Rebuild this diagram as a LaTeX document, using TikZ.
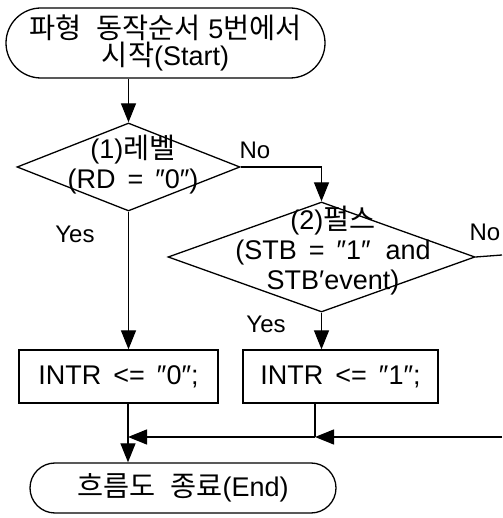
\documentclass[tikz,border=0pt]{standalone}
\usepackage{fontspec}
\setmainfont{Liberation Sans}
\newfontfamily\krfont[Scale=1.05]{Noto Sans CJK KR}
\usetikzlibrary{shapes.geometric,shapes.misc,arrows.meta}
\newcommand{\ko}[1]{{\krfont #1}}
\tikzstyle{term}=[rounded rectangle,draw,line width=1.3pt,align=center,inner sep=0pt]
\tikzstyle{dia}=[diamond,draw,line width=1.3pt,inner sep=0pt]
\tikzstyle{proc}=[rectangle,draw,line width=1.3pt,align=center,inner sep=0pt]
\tikzstyle{txt}=[align=center,inner sep=0pt,font=\fontsize{27}{30}\selectfont]
\tikzstyle{lbl}=[inner sep=0pt,font=\fontsize{24}{26}\selectfont]
\tikzstyle{flow}=[line width=1.3pt,-{Triangle[length=19pt,width=15pt]}]
\tikzstyle{wire}=[line width=1.3pt]

\begin{document}
\begin{tikzpicture}[x=1pt,y=1pt,font=\fontsize{27}{25}\selectfont]
        \useasboundingbox (0,0) rectangle (502,518);
        \node[term,minimum width=319pt,minimum height=70pt] (start) at (165.5,475) {\ko{파형}\ \ \ko{동작순서} 5\ko{번에서}\\\ko{시작}(Start)};
        \node[dia,minimum width=223pt,minimum height=88pt] (d1) at (128.5,351) {};
        \node[txt] (t1) at (133,353) {(1)\ko{레벨}\\(RD \,=\, ″0″)};
        \node[dia,minimum width=307pt,minimum height=110pt] (d2) at (321.5,261) {};
        \node[txt] (t2) at (333,267) {(2)\ko{펄스}\\(STB \,=\, ″1″\ \ and\\STB′event)};
        \node[proc,minimum width=199pt,minimum height=53pt] (box1) at (118.5,141.5) {INTR \,<=\, ″0″;};
        \node[proc,minimum width=195pt,minimum height=53pt] (box2) at (340.5,141.5) {INTR \,<=\, ″1″;};
        \node[term,minimum width=306pt,minimum height=50pt] (end) at (183,30) {\ko{흐름도}\ \ \ko{종료}(End)};
        \coordinate (j1) at (128,81);
        \coordinate (j2) at (315,81);
        \coordinate (r1) at (502,263);
        \coordinate (r2) at (502,81);
        \coordinate (k1) at (321.5,351);
        \node[lbl] (no1) at (255,368) {No};
        \node[lbl] (yes1) at (75,284) {Yes};
        \node[lbl] (no2) at (485,286) {No};
        \node[lbl] (yes2) at (266,194) {Yes};
        \draw[flow] (start.south -| d1.north) -- (d1.north);
        \draw[wire] (d1.east) -- (k1);
        \draw[flow] (k1) -- (d2.north);
        \draw[flow] (d1.south) -- (d1.south |- box1.north);
        \draw[flow] (d2.south) -- (d2.south |- box2.north);
        \draw[wire] (d2.east) -- (r1);
        \draw[wire] (j2 |- box2.south) -- (j2);
        \draw[flow] (r2) -- (j2);
        \draw[flow] (j2) -- (j1);
        \draw[flow] (j1 |- box1.south) -- (j1 |- end.north);
    \end{tikzpicture}
\end{document}
